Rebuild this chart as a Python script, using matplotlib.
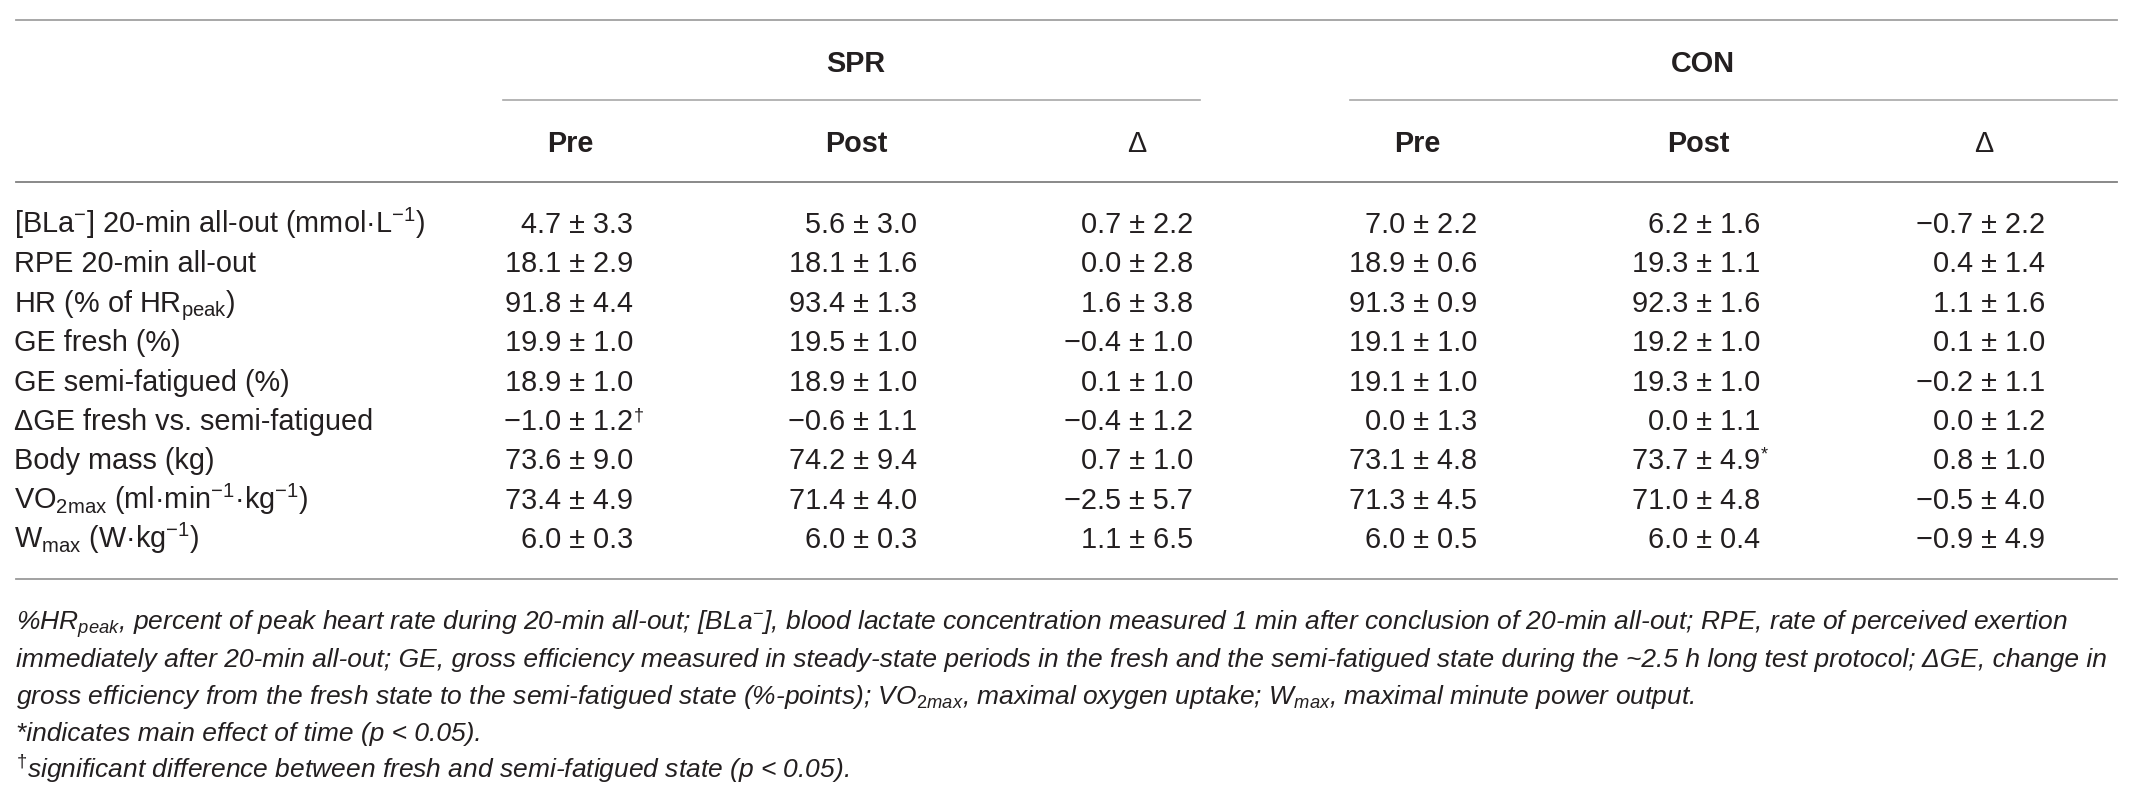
import numpy as np
import matplotlib
matplotlib.use("Agg")
import matplotlib.pyplot as plt

plt.rcParams['font.family'] = ['Liberation Sans', 'DejaVu Sans']
plt.rcParams['mathtext.fontset'] = 'custom'
plt.rcParams['mathtext.rm'] = 'Liberation Sans'
plt.rcParams['mathtext.it'] = 'Liberation Sans:italic'
plt.rcParams['mathtext.bf'] = 'Liberation Sans:bold'

# table content
labels = [
    "[BLa$^{-}$] 20-min all-out (mmol·L$^{-1}$)",
    "RPE 20-min all-out",
    "HR (% of HR$_{\\mathregular{peak}}$)",
    "GE fresh (%)",
    "GE semi-fatigued (%)",
    "ΔGE fresh vs. semi-fatigued",
    "Body mass (kg)",
    "VO$_{\\mathregular{2max}}$ (ml·min$^{-1}$·kg$^{-1}$)",
    "W$_{\\mathregular{max}}$ (W·kg$^{-1}$)",
]
groups = ["SPR", "CON"]
sub_headers = ["Pre", "Post", "Δ"]

spr_pre_mean = [4.7, 18.1, 91.8, 19.9, 18.9, -1.0, 73.6, 73.4, 6.0]
spr_pre_sd = [3.3, 2.9, 4.4, 1.0, 1.0, 1.2, 9.0, 4.9, 0.3]
spr_post_mean = [5.6, 18.1, 93.4, 19.5, 18.9, -0.6, 74.2, 71.4, 6.0]
spr_post_sd = [3.0, 1.6, 1.3, 1.0, 1.0, 1.1, 9.4, 4.0, 0.3]
spr_delta_mean = [0.7, 0.0, 1.6, -0.4, 0.1, -0.4, 0.7, -2.5, 1.1]
spr_delta_sd = [2.2, 2.8, 3.8, 1.0, 1.0, 1.2, 1.0, 5.7, 6.5]
con_pre_mean = [7.0, 18.9, 91.3, 19.1, 19.1, 0.0, 73.1, 71.3, 6.0]
con_pre_sd = [2.2, 0.6, 0.9, 1.0, 1.0, 1.3, 4.8, 4.5, 0.5]
con_post_mean = [6.2, 19.3, 92.3, 19.2, 19.3, 0.0, 73.7, 71.0, 6.0]
con_post_sd = [1.6, 1.1, 1.6, 1.0, 1.0, 1.1, 4.9, 4.8, 0.4]
con_delta_mean = [-0.7, 0.4, 1.1, 0.1, -0.2, 0.0, 0.8, -0.5, -0.9]
con_delta_sd = [2.2, 1.4, 1.6, 1.0, 1.1, 1.2, 1.0, 4.0, 4.9]

# footnote marks: (column, row, mark)
marks = [(0, 5, "†"), (4, 6, "*")]

footnotes = [
    "%HR$_{peak}$, percent of peak heart rate during 20-min all-out; [BLa$^{-}$], blood lactate concentration measured 1 min after conclusion of 20-min all-out; RPE, rate of perceived exertion",
    "immediately after 20-min all-out; GE, gross efficiency measured in steady-state periods in the fresh and the semi-fatigued state during the ~2.5 h long test protocol; ΔGE, change in",
    "gross efficiency from the fresh state to the semi-fatigued state (%-points); VO$_{2max}$, maximal oxygen uptake; W$_{max}$, maximal minute power output.",
    "*indicates main effect of time (p < 0.05).",
    "${}^{\\dagger}$significant difference between fresh and semi-fatigued state (p < 0.05).",
]

columns = [
    (spr_pre_mean, spr_pre_sd), (spr_post_mean, spr_post_sd), (spr_delta_mean, spr_delta_sd),
    (con_pre_mean, con_pre_sd), (con_post_mean, con_post_sd), (con_delta_mean, con_delta_sd),
]


def fmt(m, s):
    return f"{m:.1f}".replace("-", "\u2212") + " ± " + f"{s:.1f}"


W, H = 2135, 792
fig = plt.figure(figsize=(W / 100, H / 100), dpi=100)
ax = fig.add_axes([0, 0, 1, 1])
ax.set_xlim(0, W)
ax.set_ylim(H, 0)
ax.axis('off')

ink = '#231f20'
fs = 20.8

# rules
ax.plot([16, 2117], [20, 20], color='#a0a0a0', lw=1.3)
ax.plot([503, 1200], [100, 100], color='#a8a8a8', lw=1.2)
ax.plot([1350, 2117], [100, 100], color='#a8a8a8', lw=1.2)
ax.plot([16, 2117], [182, 182], color='#808080', lw=1.3)
ax.plot([16, 2117], [579, 579], color='#9a9a9a', lw=1.3)

# headers
head_x = [570, 856, 1137, 1417, 1698, 1984]
val_x = [633, 917, 1193, 1477, 1760, 2045]
for g, gx in zip(groups, [856, 1703]):
    ax.text(gx, 72, g, ha='center', va='baseline', fontsize=fs, fontweight='bold', color=ink)
for i, hx in enumerate(head_x):
    h = sub_headers[i % 3]
    ax.text(hx, 152, h, ha='center', va='baseline', fontsize=fs,
            fontweight='normal' if h == "Δ" else 'bold', color=ink)

# body rows
row_base = 233
row_step = 39.4
for r, lab in enumerate(labels):
    yb = row_base + r * row_step
    ax.text(14, yb, lab, ha='left', va='baseline', fontsize=fs, color=ink)
    for c, (means, sds) in enumerate(columns):
        ax.text(val_x[c], yb, fmt(means[r], sds[r]), ha='right', va='baseline', fontsize=fs, color=ink)

for c, r, m in marks:
    yb = row_base + r * row_step
    ax.text(val_x[c] + 1, yb - 10, m, ha='left', va='baseline', fontsize=13, color=ink)

# footnotes
fn_base = [630, 667, 704, 741, 778]
fn_texts = []
for t, yb in zip(footnotes, fn_base):
    fn_texts.append(ax.text(16, yb, t, ha='left', va='baseline', fontsize=fs,
                            style='italic', color=ink))

# fit footnote size so the second line ends where it does in the table
fig.canvas.draw()
rend = fig.canvas.get_renderer()
bb = fn_texts[1].get_window_extent(rend)
scale = (2098 - 16) / bb.width
for t in fn_texts:
    t.set_fontsize(fs * scale)

fig.savefig("out.png", dpi=100)
